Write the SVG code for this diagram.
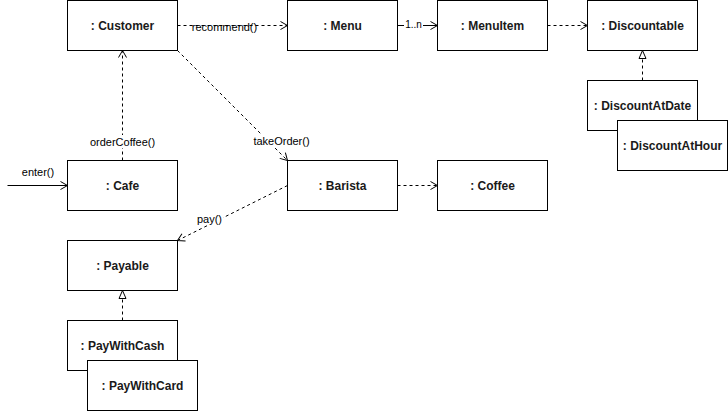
<svg xmlns="http://www.w3.org/2000/svg" width="728" height="411" viewBox="0 0 728 411">
<style>
.box{fill:#ffffff;stroke:#000000;stroke-width:1}
.nt{font-family:"Liberation Sans",Arial,Helvetica,sans-serif;font-size:12px;font-weight:bold;fill:#1a1a1a;text-anchor:middle;dominant-baseline:central}
.lt{font-family:"Liberation Sans",Arial,Helvetica,sans-serif;font-size:11px;fill:#000000;text-anchor:middle;dominant-baseline:central}
.st{font-family:"Liberation Sans",Arial,Helvetica,sans-serif;font-size:10px;fill:#000000;text-anchor:middle;dominant-baseline:central}
.dash{fill:none;stroke:#000000;stroke-width:1;stroke-dasharray:3 3}
.solid{fill:none;stroke:#000000;stroke-width:1}
</style>
<defs>
<marker id="open" markerUnits="userSpaceOnUse" markerWidth="12" markerHeight="12" refX="8" refY="6" orient="auto" viewBox="0 0 12 12">
<path d="M1,2 L8,6 L1,10" fill="none" stroke="#000000" stroke-width="1"/>
</marker>
<marker id="tri" markerUnits="userSpaceOnUse" markerWidth="12" markerHeight="12" refX="9" refY="6" orient="auto" viewBox="0 0 12 12">
<path d="M1,2.5 L9,6 L1,9.5 Z" fill="#ffffff" stroke="#000000" stroke-width="1"/>
</marker>
</defs>
<rect width="728" height="411" fill="#ffffff"/>
<g id="connectors">
<line class="dash" x1="177.5" y1="25.5" x2="287.5" y2="25.5" marker-end="url(#open)"/>
<text class="lt" x="224.5" y="27">recommend()</text>
<line class="solid" x1="397.5" y1="25.5" x2="437.5" y2="25.5" marker-end="url(#open)"/>
<rect x="404" y="20" width="19" height="9" fill="#ffffff"/>
<text class="st" x="413.5" y="24.5">1..n</text>
<line class="dash" x1="547.5" y1="25.5" x2="587.5" y2="25.5" marker-end="url(#open)"/>
<line class="dash" x1="642.5" y1="80.5" x2="642.5" y2="50.5" marker-end="url(#tri)"/>
<line class="dash" x1="122.5" y1="160.5" x2="122.5" y2="50.5" marker-end="url(#open)"/>
<rect x="90" y="135" width="65" height="13" fill="#ffffff"/>
<text class="lt" x="122.5" y="141.5">orderCoffee()</text>
<line class="solid" x1="7.5" y1="185.5" x2="67.5" y2="185.5" marker-end="url(#open)"/>
<text class="lt" x="38" y="172">enter()</text>
<line class="dash" x1="177.5" y1="50.5" x2="287.5" y2="160.5" marker-end="url(#open)"/>
<rect x="253" y="134" width="57" height="13" fill="#ffffff"/>
<text class="lt" x="281.5" y="141">takeOrder()</text>
<line class="dash" x1="397.5" y1="185.5" x2="437.5" y2="185.5" marker-end="url(#open)"/>
<line class="dash" x1="287.5" y1="185.5" x2="177.5" y2="240.5" marker-end="url(#open)"/>
<rect x="196" y="212" width="27" height="13" fill="#ffffff"/>
<text class="lt" x="209.5" y="218.5">pay()</text>
<line class="dash" x1="122.5" y1="320.5" x2="122.5" y2="290.5" marker-end="url(#tri)"/>
</g>
<g id="customer"><rect class="box" x="67.5" y="0.5" width="110" height="50"/><text class="nt" x="122.5" y="25.5">: Customer</text></g>
<g id="menu"><rect class="box" x="287.5" y="0.5" width="110" height="50"/><text class="nt" x="342.5" y="25.5">: Menu</text></g>
<g id="menuitem"><rect class="box" x="437.5" y="0.5" width="110" height="50"/><text class="nt" x="492.5" y="25.5">: MenuItem</text></g>
<g id="discountable"><rect class="box" x="587.5" y="0.5" width="110" height="50"/><text class="nt" x="642.5" y="25.5">: Discountable</text></g>
<g id="discountatdate"><rect class="box" x="587.5" y="80.5" width="110" height="50"/><text class="nt" x="642.5" y="105.5">: DiscountAtDate</text></g>
<g id="discountathour"><rect class="box" x="617.5" y="120.5" width="110" height="50"/><text class="nt" x="672.5" y="145.5">: DiscountAtHour</text></g>
<g id="cafe"><rect class="box" x="67.5" y="160.5" width="110" height="50"/><text class="nt" x="122.5" y="185.5">: Cafe</text></g>
<g id="barista"><rect class="box" x="287.5" y="160.5" width="110" height="50"/><text class="nt" x="342.5" y="185.5">: Barista</text></g>
<g id="coffee"><rect class="box" x="437.5" y="160.5" width="110" height="50"/><text class="nt" x="492.5" y="185.5">: Coffee</text></g>
<g id="payable"><rect class="box" x="67.5" y="240.5" width="110" height="50"/><text class="nt" x="122.5" y="265.5">: Payable</text></g>
<g id="paywithcash"><rect class="box" x="67.5" y="320.5" width="110" height="50"/><text class="nt" x="122.5" y="345.5">: PayWithCash</text></g>
<g id="paywithcard"><rect class="box" x="87.5" y="360.5" width="110" height="50"/><text class="nt" x="142.5" y="385.5">: PayWithCard</text></g>
</svg>
